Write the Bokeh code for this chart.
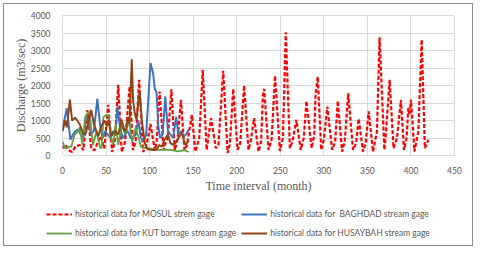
from bokeh.plotting import figure
from bokeh.layouts import column, row
from bokeh.models import Range1d, FixedTicker, Legend, LegendItem
from bokeh.embed import file_html
from bokeh.resources import INLINE

# ---- data ----
mosul_month = [0, 3, 7, 11, 15, 20, 24, 28.5, 33, 37, 40, 44, 48, 52.5, 57, 60, 64, 68, 72, 77,
               81, 84, 88, 92.5, 96, 101, 106, 108, 111.5, 116, 118, 121, 125, 129, 132, 136, 140,
               143, 148.5, 152.5, 157, 161, 165.5, 170.5, 176, 179, 184.5, 189.5, 192, 196, 201,
               204, 208.5, 213.5, 216, 220, 225, 228, 230, 231.5, 236.5, 240, 244, 249.5, 253,
               256.3, 261, 264, 268.5, 273.5, 277, 280, 286, 289, 290.5, 293, 297, 300, 304,
               309.5, 313, 316, 321, 324, 328, 333.5, 337, 340, 345, 348, 351.5, 356.5, 361, 364,
               369.5, 371, 375.5, 380, 384, 388.5, 392, 395, 397, 398.5, 400, 404, 408.5, 412.3,
               416, 420]
mosul_value = [200, 320, 150, 100, 260, 300, 150, 1300, 200, 150, 350, 550, 200, 1450, 100, 400,
               2020, 100, 400, 1970, 150, 400, 2160, 100, 250, 900, 150, 400, 1830, 150, 350, 500,
               1890, 150, 450, 1590, 150, 300, 1160, 110, 500, 2450, 160, 1070, 210, 300, 2420, 70,
               300, 1900, 160, 350, 2000, 160, 400, 1070, 110, 400, 1700, 1900, 160, 450, 2280,
               130, 500, 3520, 210, 400, 1020, 160, 500, 1560, 210, 600, 1730, 2250, 160, 450,
               1400, 160, 400, 1560, 110, 400, 1780, 160, 350, 1050, 110, 350, 1260, 110, 690,
               3380, 160, 550, 2160, 210, 500, 1590, 160, 500, 1360, 1150, 1600, 110, 690, 3310,
               210, 450]

baghdad_month = [0, 2, 5, 7, 9, 12, 15, 18, 21, 24, 27, 30, 33, 36, 40, 43, 46, 49, 52, 55, 58,
                 61, 63, 66, 69, 72, 75, 78, 81, 84, 87, 90, 93, 96, 99, 101, 104, 106, 108, 110,
                 112, 115, 118, 121, 124, 127, 130.5, 133, 136, 139, 142, 145]
baghdad_value = [700, 1000, 1350, 900, 450, 600, 700, 750, 600, 500, 1150, 900, 600, 700, 1620,
                 900, 500, 700, 600, 500, 700, 600, 1400, 800, 500, 600, 700, 500, 500, 600, 1000,
                 500, 400, 600, 1800, 2640, 2350, 1900, 1800, 830, 500, 600, 1690, 700, 600, 500,
                 1110, 600, 700, 550, 600, 750]

kut_month = [0, 3, 6, 10, 14, 18, 20, 23, 26, 29, 31, 35, 39, 43, 45, 47, 50, 53, 55, 58, 61, 64,
             68, 72, 76, 80, 84, 87.5, 90, 95, 100, 108, 116, 124, 132, 140, 145]
kut_value = [400, 200, 250, 250, 600, 700, 800, 300, 1100, 1200, 1250, 300, 700, 250, 200, 1100,
             1150, 1150, 600, 300, 900, 300, 850, 600, 1000, 400, 800, 500, 250, 220, 200, 160,
             170, 160, 120, 150, 100]

husaybah_month = [0, 3, 5, 8.5, 11, 14.5, 17, 20, 24, 27, 30, 33, 36, 41, 44, 48, 51, 53, 56, 60,
                  64, 68, 71, 73, 75, 77, 79.5, 81, 83, 85, 88.5, 91, 94.5, 97, 100, 104, 108,
                  111, 114, 117, 121, 124, 128, 132, 137, 141, 145]
husaybah_value = [700, 1000, 800, 1600, 1000, 1080, 1000, 880, 600, 650, 1000, 1300, 900, 550,
                  800, 1000, 830, 1020, 550, 700, 600, 1020, 700, 740, 1100, 900, 2750, 1600, 1200,
                  1020, 1850, 1020, 350, 200, 170, 160, 170, 300, 250, 450, 600, 350, 300, 450,
                  650, 300, 430]

x_ticks = [0, 50, 100, 150, 200, 250, 300, 350, 400, 450]
y_ticks = [0, 500, 1000, 1500, 2000, 2500, 3000, 3500, 4000]

series_names = ["historical data for MOSUL strem gage",
                "historical data for  BAGHDAD stream gage",
                "historical data for KUT barrage stream gage",
                "historical data for HUSAYBAH stream gage"]
series_colors = ["#ff0000", "#4070c0", "#63a044", "#8e4518"]
series_widths = [2.2, 2, 1.8, 2]
series_dash = ["4 2", "solid", "solid", "solid"]
series_x = [mosul_month, baghdad_month, kut_month, husaybah_month]
series_y = [mosul_value, baghdad_value, kut_value, husaybah_value]

# ---- main chart ----
p = figure(width=470, height=192, output_backend="svg", toolbar_location=None,
           x_range=Range1d(0, 450), y_range=Range1d(0, 4000),
           min_border_left=58, min_border_right=18, min_border_top=11, min_border_bottom=41)

p.xaxis.ticker = FixedTicker(ticks=x_ticks)
p.yaxis.ticker = FixedTicker(ticks=y_ticks)
for ax in (p.xaxis[0], p.yaxis[0]):
    ax.axis_line_color = None
    ax.major_tick_line_color = None
    ax.minor_tick_line_color = None
    ax.major_label_text_font = "Lato"
    ax.major_label_text_font_size = "8.5px"
    ax.major_label_text_color = "#595959"
    ax.axis_label_text_font = "Liberation Serif"
    ax.axis_label_text_font_size = "12px"
    ax.axis_label_text_font_style = "normal"
    ax.axis_label_text_color = "#595959"
p.xaxis.axis_label = "Time interval (month)"
p.yaxis.axis_label = "Discharge (m3/sec)"
p.xaxis.major_label_standoff = 5
p.yaxis.major_label_standoff = 6
p.xaxis.axis_label_standoff = 2
p.yaxis.axis_label_standoff = 0

p.xgrid.grid_line_color = "#d9d9d9"
p.ygrid.grid_line_color = "#d9d9d9"
p.outline_line_color = "#d9d9d9"

for xs, ys, c, w, d in zip(series_x, series_y, series_colors, series_widths, series_dash):
    p.line(xs, ys, line_color=c, line_width=w, line_dash=d)

# ---- legend strip (separate figure so it is not clipped by the chart frame) ----
lg = figure(width=470, height=49, output_backend="svg", toolbar_location=None,
            x_axis_type=None, y_axis_type=None,
            x_range=Range1d(1000, 1001), y_range=Range1d(0, 1),
            min_border_left=0, min_border_right=0, min_border_top=0, min_border_bottom=0)
lg.grid.visible = False
lg.outline_line_color = None
items = []
for name, xs, ys, c, w, d in zip(series_names, series_x, series_y, series_colors,
                                 series_widths, series_dash):
    r = lg.line(xs[:1], ys[:1], line_color=c, line_width=w, line_dash=d)
    items.append(LegendItem(label=name, renderers=[r]))

legend = Legend(items=items, location=(42, 5), orientation="horizontal", ncols=2,
                glyph_width=26, glyph_height=14, label_height=14, label_standoff=3,
                spacing=5, padding=0, margin=0,
                label_text_font="Lato", label_text_font_size="8.5px",
                label_text_color="#595959",
                border_line_color=None, background_fill_alpha=0)
lg.add_layout(legend, "center")

layout = column(p, row(lg, spacing=0), spacing=0, width=470,
                styles={"border": "1.5px solid #8c8c8c", "margin-left": "3px",
                        "margin-top": "3px"})
open("out.html", "w").write(file_html(layout, INLINE))
